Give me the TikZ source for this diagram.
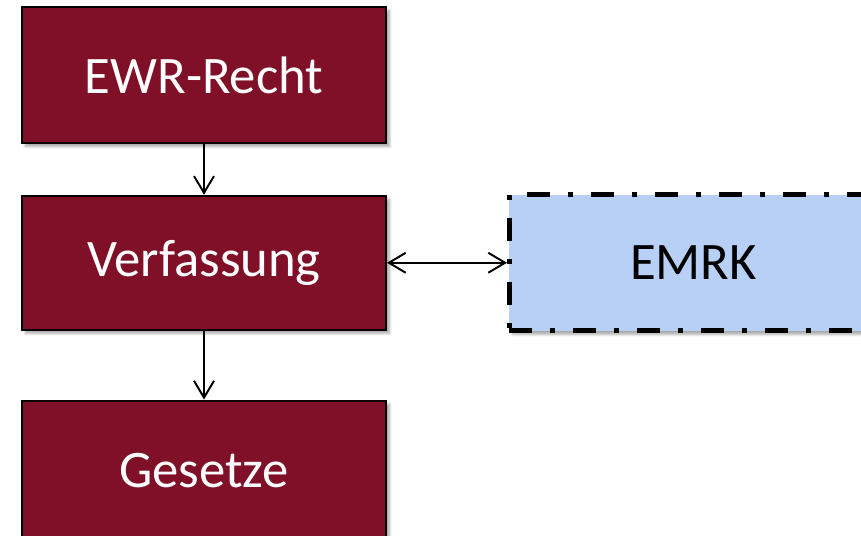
\documentclass[tikz,border=0pt]{standalone}
\usepackage{fontspec}
\setmainfont{Carlito}
\usepackage{tikz}
\usetikzlibrary{positioning, arrows.meta, shadows.blur}

\definecolor{lawred}{HTML}{7F1028}
\definecolor{emrkblue}{HTML}{B8D0F5}

\tikzset{
  lawbox/.style={draw=black, line width=1.4pt, fill=lawred, text=white,
    minimum width=9.1cm, minimum height=3.4cm, inner sep=0pt,
    font=\fontsize{37.5}{44}\selectfont,
    blur shadow={shadow xshift=2.5pt, shadow yshift=-2.5pt, shadow blur steps=6, shadow opacity=35}},
  extbox/.style={draw=black, line width=3.5pt, fill=emrkblue, text=black,
    dash pattern=on 16pt off 13pt on 3.5pt off 13pt,
    minimum width=9.2cm, minimum height=3.4cm, inner sep=0pt,
    font=\fontsize{37.5}{44}\selectfont,
    blur shadow={shadow xshift=2.5pt, shadow yshift=-2.5pt, shadow blur steps=6, shadow opacity=35}},
  barb/.tip={Straight Barb[length=4.2mm, width=5mm, line width=1.4pt]},
  link/.style={line width=1.4pt, -barb},
  twoway/.style={line width=1.4pt, barb-barb}
}

\begin{document}
\begin{tikzpicture}
  \useasboundingbox (0,0) rectangle (21.525,-13.4);
  \node [lawbox] (ewr) at (5.1,-1.875) {EWR-Recht};
  \node [lawbox, minimum height=3.35cm, below=1.27cm of ewr] (verf) {Verfassung};
  \node [lawbox, minimum height=3.5cm, below=1.72cm of verf] (ges) {Gesetze};
  \node [extbox, right=3cm of verf] (emrk) {EMRK};
  \draw [link] (ewr) -- (verf);
  \draw [link] (verf) -- (ges);
  \draw [twoway] (verf) -- (emrk);
\end{tikzpicture}
\end{document}
